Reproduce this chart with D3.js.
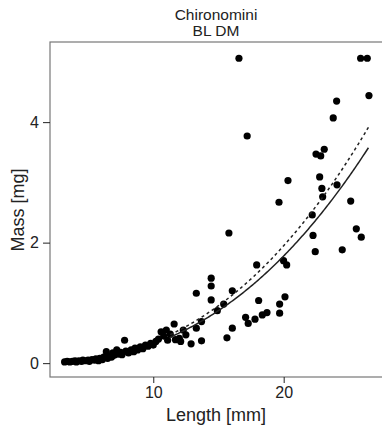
<!DOCTYPE html>
<html><head><meta charset="utf-8">
<script src="https://cdn.jsdelivr.net/npm/d3@7"></script>
<style>body{margin:0;background:#fff;} svg{display:block;font-family:"Liberation Sans",Arial,sans-serif;}</style>
</head><body>
<svg id="c" width="382" height="431"></svg>
<script>
const titleLines = ["Chironomini", "BL DM"];
const xLabel = "Length [mm]";
const yLabel = "Mass [mg]";
const xTicks = [10, 20];
const yTicks = [0, 2, 4];
const lengths = [3.2,3.4,3.6,3.8,4.0,4.1,4.3,4.5,4.6,4.8,5.0,5.1,5.3,5.5,5.6,5.8,5.9,6.1,6.2,6.4,6.5,6.6,6.8,6.9,7.0,7.2,7.3,7.5,7.6,7.8,7.9,8.1,8.3,8.5,8.6,8.8,9.0,9.2,9.4,9.6,9.8,10.0,10.2,10.4,10.6,10.8,11.0,11.1,11.3,11.6,11.7,12.0,12.1,12.3,12.5,12.9,13.3,13.7,
  13.3,13.7,14.44,14.44,14.44,14.91,15.4,15.65,15.8,16.06,16.06,16.57,17.08,17.2,17.28,17.8,17.93,18.08,18.36,18.72,19.64,19.69,19.69,19.99,20.1,20.23,20.33,
  22.19,22.25,22.42,22.48,22.76,22.84,22.93,22.99,23.11,23.8,24.06,24.09,24.49,25.14,25.57,25.9,25.95,26.41,26.54];
const masses = [0.02,0.03,0.02,0.03,0.04,0.02,0.04,0.03,0.05,0.04,0.05,0.03,0.06,0.05,0.07,0.04,0.08,0.06,0.10,0.19,0.08,0.12,0.10,0.17,0.13,0.22,0.15,0.18,0.14,0.38,0.20,0.17,0.22,0.19,0.25,0.22,0.27,0.24,0.30,0.28,0.33,0.30,0.36,0.40,0.52,0.45,0.55,0.38,0.48,0.65,0.39,0.41,0.36,0.55,0.47,0.32,0.58,0.37,
  1.16,0.69,1.41,1.28,1.05,0.87,0.98,0.42,2.16,1.20,0.58,5.06,0.76,3.77,0.66,0.73,1.63,1.04,0.80,0.84,2.67,0.98,0.83,1.70,1.10,1.63,3.03,
  2.46,2.12,1.85,3.47,3.09,3.44,2.90,2.76,3.55,4.07,4.35,2.96,1.88,2.69,2.23,5.06,2.09,5.06,4.44];
// fitted power curves (mass = a * length^b)
const fitA = 0.001056, fitB = 2.48, fitCorr = 1.095;
const fitRange = [11.3, 26.5];

const svg = d3.select("#c");
const L = 50, T = 42, B = 377;
const x = d3.scaleLinear().domain([2.08, 28]).range([L, L + 25.92 * 13.04]);
const y = d3.scaleLinear().domain([-0.23, 5.33]).range([B, T]);

svg.append("rect").attr("x", L).attr("y", T).attr("width", 400).attr("height", B - T)
  .attr("fill", "none").attr("stroke", "#777").attr("stroke-width", 1.2);

const xa = svg.append("g").attr("transform", `translate(0,${B})`)
  .call(d3.axisBottom(x).tickValues(xTicks).tickSize(6).tickPadding(4).tickFormat(d3.format("d")));
xa.select(".domain").remove();
xa.selectAll("line").attr("stroke", "#222");
xa.selectAll("text").attr("font-size", 16).attr("fill", "#222").attr("font-family", "Liberation Sans, Arial, sans-serif");

const ya = svg.append("g").attr("transform", `translate(${L},0)`)
  .call(d3.axisLeft(y).tickValues(yTicks).tickSize(7).tickPadding(4).tickFormat(d3.format("d")));
ya.select(".domain").remove();
ya.selectAll("line").attr("stroke", "#222");
ya.selectAll("text").attr("font-size", 16).attr("fill", "#222").attr("font-family", "Liberation Sans, Arial, sans-serif");

svg.append("text").attr("x", 216).attr("y", 421).attr("text-anchor", "middle")
  .attr("font-size", 18).attr("fill", "#222").text(xLabel);
svg.append("text").attr("transform", "translate(24,210) rotate(-90)").attr("text-anchor", "middle")
  .attr("font-size", 18).attr("fill", "#222").text(yLabel);
titleLines.forEach((t, i) => svg.append("text").attr("x", 216).attr("y", 20 + i * 16)
  .attr("text-anchor", "middle").attr("font-size", 15.5).attr("fill", "#222").text(t));

const pts = lengths.map((l, i) => [l, masses[i]]);
svg.append("g").selectAll("circle").data(pts).join("circle")
  .attr("cx", d => x(d[0])).attr("cy", d => y(d[1])).attr("r", 3.6).attr("fill", "#000");

const xs = d3.range(fitRange[0], fitRange[1] + 0.001, 0.1);
const line = d3.line().x(d => x(d[0])).y(d => y(d[1]));
svg.append("path").attr("d", line(xs.map(l => [l, fitA * Math.pow(l, fitB)])))
  .attr("fill", "none").attr("stroke", "#222").attr("stroke-width", 1.5);
svg.append("path").attr("d", line(xs.map(l => [l, fitCorr * fitA * Math.pow(l, fitB)])))
  .attr("fill", "none").attr("stroke", "#222").attr("stroke-width", 1.5).attr("stroke-dasharray", "3,3");
</script>
</body></html>
